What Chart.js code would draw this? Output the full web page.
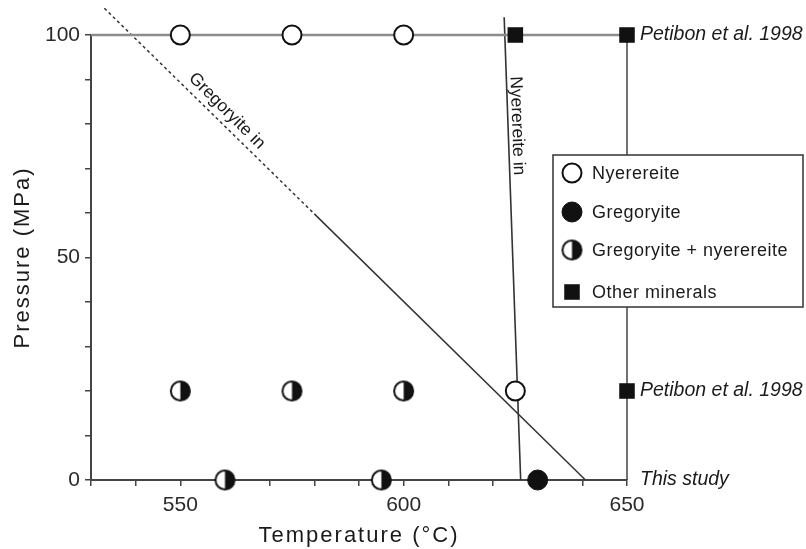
<!DOCTYPE html>
<html>
<head>
<meta charset="utf-8">
<script src="https://cdn.jsdelivr.net/npm/chart.js@4/dist/chart.umd.min.js"></script>
<style>
  html, body { margin: 0; padding: 0; background: #fff; }
  #c { display: block; }
</style>
</head>
<body>
<canvas id="c" width="806" height="549"></canvas>
<script>
// ---- data ----
const nyerereiteT = [550, 575, 600, 625];
const nyerereiteP = [100, 100, 100, 20];
const gregoryiteT = [630];
const gregoryiteP = [0];
const mixedT = [550, 575, 600, 560, 595];
const mixedP = [20, 20, 20, 0, 0];
const otherT = [625, 650, 650];
const otherP = [100, 100, 20];

const gregInDashT = [533, 580];
const gregInDashP = [106, 59.8];
const gregInSolidT = [580, 640.7];
const gregInSolidP = [59.8, 0];
const nyerInT = [622.5, 626.2];
const nyerInP = [104, 0];

const topFrameT = [530, 650];
const topFrameP = [100, 100];
const rightFrameT = [650, 650];
const rightFrameP = [100, 0];

const xTickLabels = [550, 600, 650];
const yTickLabels = [0, 50, 100];

const seriesNames = ['Nyerereite', 'Gregoryite', 'Gregoryite + nyerereite', 'Other minerals'];
const sourceLabels = ['Petibon et al. 1998', 'Petibon et al. 1998', 'This study'];
const sourceP = [100, 20, 0];
const phaseLabels = ['Gregoryite in', 'Nyerereite in'];
const phaseLabelT = [560.4, 625.4];
const phaseLabelP = [82.9, 79.6];
const phaseLabelAngle = [45, 88];

const pts = (xs, ys) => xs.map((x, i) => ({ x: x, y: ys[i] }));

const FONT = "'Liberation Sans', Arial, Helvetica, sans-serif";
Chart.defaults.font.family = FONT;
Chart.defaults.color = '#1a1a1a';

function makeHalf(r, lw) {
  const c = document.createElement('canvas');
  const s = Math.ceil(2 * r + lw + 2);
  c.width = c.height = s;
  const g = c.getContext('2d');
  const cx = s / 2;
  g.beginPath(); g.arc(cx, cx, r, 0, 2 * Math.PI); g.fillStyle = '#fff'; g.fill();
  g.beginPath(); g.arc(cx, cx, r, -Math.PI / 2, Math.PI / 2); g.closePath(); g.fillStyle = '#111'; g.fill();
  g.beginPath(); g.arc(cx, cx, r, 0, 2 * Math.PI); g.lineWidth = lw; g.strokeStyle = '#111'; g.stroke();
  return c;
}
const halfImg = makeHalf(9.5, 2);

const lineDs = (label, xs, ys, color, width, dash) => ({
  label: label, data: pts(xs, ys), showLine: true, pointRadius: 0,
  borderColor: color, borderWidth: width, borderDash: dash || [],
  backgroundColor: color, clip: false, order: 5, fill: false
});

const spacingPlugin = {
  id: 'spacing',
  beforeDraw(c) { c.ctx.letterSpacing = '2px'; },
  beforeDatasetsDraw(c) { c.ctx.letterSpacing = '0px'; }
};

const annotPlugin = {
  id: 'annot',
  afterDraw(c) {
    const ctx = c.ctx, xs = c.scales.x, ys = c.scales.y, ca = c.chartArea;
    ctx.save();
    ctx.letterSpacing = '0px';
    // source labels
    ctx.font = 'italic 19.5px ' + FONT;
    ctx.fillStyle = '#1a1a1a';
    ctx.textAlign = 'left';
    ctx.textBaseline = 'middle';
    sourceLabels.forEach((t, i) => {
      ctx.fillText(t, ca.right + 13, ys.getPixelForValue(sourceP[i]));
    });
    // phase boundary labels
    ctx.font = '17.5px ' + FONT;
    ctx.textAlign = 'center';
    phaseLabels.forEach((t, i) => {
      ctx.save();
      ctx.translate(xs.getPixelForValue(phaseLabelT[i]), ys.getPixelForValue(phaseLabelP[i]));
      ctx.rotate(phaseLabelAngle[i] * Math.PI / 180);
      ctx.fillText(t, 0, 0);
      ctx.restore();
    });
    // legend
    const bx = ca.right - 74, by = 155, bw = 250, bh = 152;
    ctx.fillStyle = '#fff';
    ctx.fillRect(bx, by, bw, bh);
    ctx.strokeStyle = '#333';
    ctx.lineWidth = 1.5;
    ctx.strokeRect(bx, by, bw, bh);
    const rowY = [173, 212, 250, 292];
    ctx.font = '18px ' + FONT;
    ctx.textAlign = 'left';
    ctx.textBaseline = 'middle';
    for (let i = 0; i < 4; i++) {
      const ds = c.data.datasets[i];
      ctx.save();
      ctx.fillStyle = ds.backgroundColor;
      ctx.strokeStyle = ds.borderColor;
      ctx.lineWidth = ds.borderWidth;
      Chart.helpers.drawPoint(ctx, { pointStyle: ds.pointStyle, radius: ds.pointRadius, borderWidth: ds.borderWidth, rotation: 0 }, bx + 19, rowY[i]);
      ctx.restore();
      ctx.fillStyle = '#1a1a1a';
      ctx.letterSpacing = '0.5px';
      ctx.fillText(seriesNames[i], bx + 39, rowY[i] + 1);
      ctx.letterSpacing = '0px';
    }
    ctx.restore();
  }
};

new Chart(document.getElementById('c'), {
  type: 'scatter',
  data: {
    datasets: [
      { label: seriesNames[0], data: pts(nyerereiteT, nyerereiteP), pointStyle: 'circle', pointRadius: 9.5,
        backgroundColor: '#fff', borderColor: '#111', borderWidth: 2, clip: false, order: 0 },
      { label: seriesNames[1], data: pts(gregoryiteT, gregoryiteP), pointStyle: 'circle', pointRadius: 10,
        backgroundColor: '#111', borderColor: '#111', borderWidth: 1, clip: false, order: 0 },
      { label: seriesNames[2], data: pts(mixedT, mixedP), pointStyle: halfImg, pointRadius: 10,
        backgroundColor: '#111', borderColor: '#111', borderWidth: 0, clip: false, order: 0 },
      { label: seriesNames[3], data: pts(otherT, otherP), pointStyle: 'rect', pointRadius: 11,
        backgroundColor: '#111', borderColor: '#111', borderWidth: 0, clip: false, order: 0 },
      lineDs('top frame', topFrameT, topFrameP, '#8c8c8c', 2.5),
      lineDs('right frame', rightFrameT, rightFrameP, '#444', 1.5),
      lineDs('Gregoryite in (dashed)', gregInDashT, gregInDashP, '#333', 1.5, [3, 3]),
      lineDs('Gregoryite in', gregInSolidT, gregInSolidP, '#333', 1.5),
      lineDs('Nyerereite in', nyerInT, nyerInP, '#333', 1.6)
    ]
  },
  options: {
    responsive: false,
    animation: false,
    events: [],
    layout: { padding: { top: 35, right: 179, left: 0, bottom: 0 } },
    plugins: { legend: { display: false }, tooltip: { enabled: false } },
    scales: {
      x: {
        type: 'linear', min: 530, max: 650,
        ticks: {
          stepSize: 10, autoSkip: false, maxRotation: 0, z: 1,
          callback: v => xTickLabels.includes(v) ? String(v) : '',
          font: { size: 21 }, color: '#2a2a2a', padding: 7
        },
        grid: { drawOnChartArea: false, drawTicks: true, tickLength: 6, color: '#444', lineWidth: 1.5 },
        border: { color: '#444', width: 2 },
        title: { display: true, text: 'Temperature (°C)', font: { size: 22 }, color: '#1a1a1a', padding: { top: 0, bottom: 0 } },
        afterFit: s => { s.height = 69; }
      },
      y: {
        type: 'linear', min: 0, max: 100,
        ticks: {
          stepSize: 10, autoSkip: false, z: 1,
          callback: v => yTickLabels.includes(v) ? String(v) : '',
          font: { size: 21 }, color: '#2a2a2a', padding: 5
        },
        grid: { drawOnChartArea: false, drawTicks: true, tickLength: 6, color: '#444', lineWidth: 1.5 },
        border: { color: '#444', width: 2 },
        title: { display: true, text: 'Pressure (MPa)', font: { size: 22 }, color: '#1a1a1a', padding: { top: 10, bottom: 0 } },
        afterFit: s => { s.width = 91; }
      }
    }
  },
  plugins: [spacingPlugin, annotPlugin]
});
</script>
</body>
</html>
